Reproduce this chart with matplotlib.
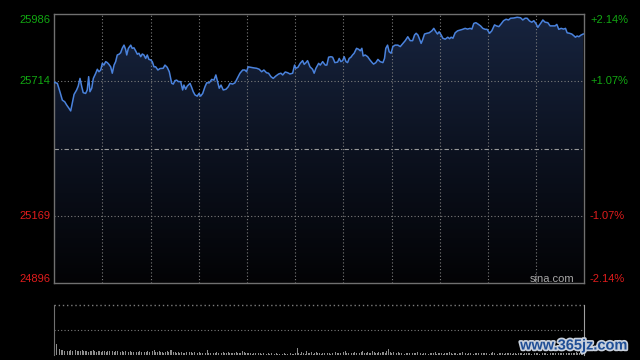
import numpy as np
import matplotlib
matplotlib.use("Agg")
import matplotlib.pyplot as plt
import matplotlib.patheffects as pe
from matplotlib.transforms import blended_transform_factory
from matplotlib.colors import LinearSegmentedColormap

# ---------------- data ----------------
prev_close = 25441
y_top, y_bot = 25986, 24896
left_labels = ["25986", "25714", "25169", "24896"]
left_values = [25986, 25714, 25169, 24896]
right_labels = ["+2.14%", "+1.07%", "-1.07%", "-2.14%"]

minutes = [0.0, 1.9, 3.5, 5.0, 6.5, 7.7, 9.1, 10.2, 11.2, 12.3, 13.9, 14.9, 16.0, 17.1, 18.0, 19.5,
           20.5, 21.4, 22.2, 23.3, 24.3, 25.8, 26.8, 27.8, 28.9, 29.9, 30.9, 32.0, 33.0, 34.0, 35.1,
           36.1, 37.2, 38.2, 39.2, 40.3, 41.3, 42.3, 43.4, 44.4, 45.1, 46.1, 47.6, 48.5, 49.6, 50.7,
           51.7, 52.7, 53.8, 54.8, 55.8, 56.9, 57.9, 58.9, 60.0, 61.0, 62.1, 63.1, 64.5, 65.8,
           67.8, 68.9, 70.3, 71.6, 73.1, 74.1, 75.1, 76.2, 77.2, 78.7, 79.9, 80.7, 81.8, 82.8, 84.5,
           85.5, 86.5, 87.6, 89.0, 90.1, 91.1, 92.4, 93.8, 94.9, 96.5, 98.0, 99.4, 100.6, 101.4,
           102.7, 103.8, 105.2, 106.9, 108.3, 109.4, 111.0, 112.5, 113.9, 115.6, 117.3, 118.7,
           119.7, 120.7, 122.2, 123.9, 126.0, 127.6, 129.1, 130.5, 132.1,
           133.4, 134.9, 136.3, 138.0, 139.7, 141.1, 142.2, 143.8, 145.3, 146.7, 148.4, 149.6,
           150.4, 151.7, 153.1, 154.6, 155.6, 156.7, 157.7, 159.2, 160.8, 161.8, 162.9, 164.6,
           165.6, 167.1, 168.7, 169.7, 170.8, 172.2, 173.3, 174.7, 176.4, 177.4, 178.4, 179.5,
           180.5, 181.6, 182.6, 183.6, 184.7, 185.7, 186.7, 188.2, 189.5, 190.5, 191.5, 192.3,
           193.6, 195.1, 196.5, 197.9,
           198.8, 200.2, 201.5, 202.9, 204.6, 205.6, 206.4, 207.5, 208.5, 209.7, 210.8, 212.2,
           213.9, 215.4, 216.8, 218.5, 220.1, 221.6, 223.1, 224.3, 225.3, 226.4, 227.2, 228.4,
           229.3, 230.5, 232.0, 233.4, 235.1, 236.3, 237.6, 238.6, 239.6, 240.9, 241.9, 243.4,
           245.0, 246.1, 247.1, 248.2, 249.6, 251.1, 252.7, 254.2, 255.8, 257.3, 258.9, 260.0,
           261.2, 262.5, 263.7,
           265.4, 266.8, 268.3, 269.5, 271.0, 272.4, 274.1, 275.3, 276.8, 278.2, 279.7, 281.3,
           282.8, 284.1, 286.1, 288.2, 290.3, 291.7, 293.1, 294.4, 295.9, 297.3, 298.6, 300.0,
           301.1, 302.1, 303.1, 304.2, 305.6, 307.3, 308.7, 310.4, 311.8, 312.9, 314.1, 315.6,
           317.1, 318.3, 319.3, 320.8, 322.2, 323.5, 324.5, 325.5, 326.6, 328.0, 329.3]

prices = [25710, 25706, 25672, 25638, 25631, 25618, 25605, 25594, 25625, 25661, 25679, 25695, 25726,
          25692, 25668, 25665, 25679, 25733, 25672, 25686, 25726, 25747, 25763, 25753, 25760, 25787,
          25780, 25794, 25790, 25783, 25773, 25747, 25780, 25794, 25821, 25824, 25830, 25848, 25861,
          25844, 25821, 25848, 25861, 25848, 25850, 25837, 25824, 25828, 25814, 25825, 25821, 25807,
          25821, 25803, 25801, 25794, 25773, 25773, 25760, 25766,
          25767, 25780, 25771, 25753, 25706, 25703, 25717, 25719, 25713, 25713, 25679, 25699, 25682,
          25695, 25706, 25690, 25672, 25659, 25654, 25665, 25654, 25665, 25692, 25708, 25708, 25722,
          25719, 25740, 25719, 25686, 25699, 25679, 25682, 25692, 25706, 25703, 25708, 25726, 25747,
          25760, 25760, 25753, 25773, 25771, 25769, 25767, 25763, 25753, 25760, 25749,
          25747, 25733, 25726, 25736, 25744, 25747, 25740, 25752, 25749, 25744, 25747, 25780, 25767,
          25771, 25787, 25798, 25783, 25790, 25798, 25773, 25763, 25747, 25767, 25787, 25780, 25794,
          25780, 25780, 25812, 25814, 25812, 25790, 25792, 25807, 25794, 25798, 25814, 25794, 25790,
          25807, 25812, 25821, 25828, 25848, 25844, 25838, 25848, 25817, 25821, 25814, 25801, 25790,
          25784, 25790, 25803, 25794, 25790, 25807, 25848, 25861, 25834, 25828, 25855, 25861, 25861,
          25855, 25866, 25879, 25895, 25879, 25879, 25902, 25909, 25902, 25889, 25868, 25882, 25906,
          25909, 25911, 25919, 25929, 25915, 25906, 25915, 25902, 25889, 25885, 25893, 25887, 25893,
          25889, 25911, 25919, 25922, 25925, 25929, 25926, 25929, 25926, 25949, 25952, 25947,
          25939, 25929, 25925, 25925, 25909, 25919, 25943, 25939, 25936, 25947, 25960, 25966, 25963,
          25970, 25971, 25974, 25972, 25963, 25970, 25970, 25959, 25954, 25960, 25947, 25933, 25943,
          25952, 25963, 25954, 25952, 25939, 25939, 25939, 25945, 25925, 25929, 25926, 25929, 25911,
          25909, 25906, 25899, 25893, 25898, 25895, 25902, 25906]

volumes = [21, 11, 7, 6, 5, 5, 4, 5, 4, 4, 5, 4, 4, 5, 4, 4, 4, 5, 4, 4, 4, 3, 4, 4, 5, 4, 3, 4, 4, 3,
           4, 4, 3, 4, 4, 3, 4, 3, 4, 4, 3, 3, 4, 3, 4, 4, 3, 4, 3, 3, 4, 3, 3, 4, 3, 5, 3, 3, 4, 3,
           3, 4, 5, 3, 3, 4, 3, 3, 2, 3, 4, 3, 5, 5, 3, 3, 2, 3, 2, 3, 2, 2, 3, 2, 3, 3, 2, 3, 2, 2,
           3, 2, 2, 3, 2, 5, 2, 2, 3, 2, 2, 3, 2, 2, 2, 3, 2, 2, 3, 2, 2, 2, 2, 3, 2, 2, 2, 4, 3, 2,
           2, 2, 2, 1, 2, 2, 1, 2, 2, 1, 2, 2, 1, 2, 1, 2, 1, 1, 2, 1, 1, 2, 1, 2, 1, 1, 1, 2, 1, 1,
           2, 7, 2, 1, 3, 2, 1, 4, 2, 2, 3, 1, 2, 3, 2, 2, 1, 2, 2, 3, 2, 2, 1, 2, 2, 3, 2, 2, 2, 2,
           3, 4, 2, 2, 3, 2, 2, 3, 2, 3, 2, 3, 4, 2, 2, 3, 2, 2, 4, 3, 2, 2, 3, 2, 3, 3, 2, 4, 6, 3,
           2, 3, 2, 2, 3, 2, 2, 2, 1, 2, 2, 2, 1, 2, 2, 2, 3, 2, 2, 1, 2, 2, 2, 1, 2, 2, 2, 3, 1, 2,
           2, 2, 1, 2, 2, 2, 3, 2, 1, 2, 2, 1, 2, 2, 3, 2, 2, 1, 2, 2, 2, 1, 2, 2, 2, 1, 2, 2, 2, 2,
           2, 1, 2, 3, 2, 2, 1, 2, 2, 2, 1, 2, 2, 2, 2, 1, 2, 2, 1, 2, 2, 2, 1, 2, 2, 2, 2, 1, 2, 2,
           2, 2, 1, 2, 2, 2, 2, 1, 2, 2, 2, 2, 2, 1, 2, 2, 2, 2, 2, 2, 2, 2, 2, 2, 2, 3, 2, 2, 2, 3]

# ---------------- figure ----------------
plt.rcParams['font.family'] = ['Liberation Sans', 'DejaVu Sans']
fig = plt.figure(figsize=(6.4, 3.6), dpi=100, facecolor='black')

ax = fig.add_axes([54.3 / 640, 1 - 283 / 360, 530 / 640, (283 - 14.3) / 360])
ax.set_facecolor('black')
ax.set_xlim(0, 330)
ax.set_ylim(y_bot, y_top)

x = np.array(minutes)
y = np.array(prices)

# gradient fill under the line
poly = ax.fill_between(x, y, y_bot, color='none', linewidth=0)
grad = np.linspace(1, 0, 256).reshape(-1, 1)
cmap = LinearSegmentedColormap.from_list('g', ['#030305', '#0c1220', '#17243f'])
im = ax.imshow(grad, cmap=cmap, aspect='auto', extent=[0, 330, y_bot, y_top],
               origin='upper', zorder=1, interpolation='bilinear')
path = poly.get_paths()[0]
im.set_clip_path(path, transform=ax.transData)

ax.plot(x, y, color='#4a82dc', linewidth=1.1, zorder=3)

# grid
gc = '#7c7c7c'
for t in range(30, 330, 30):
    ax.axvline(t, color=gc, linestyle=(0, (1, 2)), linewidth=0.8, zorder=2)
for v in (25714, 25169):
    ax.axhline(v, color=gc, linestyle=(0, (1, 2)), linewidth=0.8, zorder=2)
ax.axhline(prev_close, color='#9a9a9a', linestyle=(0, (4, 2, 1, 2)), linewidth=0.8, zorder=2)

for s in ax.spines.values():
    s.set_color('#707070')
    s.set_linewidth(1.0)
ax.set_xticks([])
ax.set_yticks([])

green = '#12a812'
red = '#e01c1c'
colors = [green, green, red, red]
tr_l = blended_transform_factory(fig.transFigure, ax.transData)
offsets = [-5.5, 0, 0, 4.5]  # pixel shift for first/last labels
for lab, val, col, rl, off in zip(left_labels, left_values, colors, right_labels, offsets):
    ax.annotate(lab, xy=(50 / 640, val), xycoords=tr_l, xytext=(0, off), textcoords='offset pixels',
                ha='right', va='center', color=col, fontsize=8)
    ax.annotate(rl, xy=(590 / 640, val), xycoords=tr_l, xytext=(0, off), textcoords='offset pixels',
                ha='left', va='center', color=col, fontsize=8)

ax.text(552 / 640, 1 - 279.5 / 360, 'sina.com', transform=fig.transFigure, ha='center', va='center',
        color='#a8a8a8', fontsize=8, zorder=5)

# ---------------- volume panel ----------------
vax = fig.add_axes([54.3 / 640, 1 - 355 / 360, 530 / 640, (355 - 304.7) / 360])
vax.set_facecolor('black')
vax.set_xlim(-0.3, 330)
vax.set_ylim(0, 50)
vax.bar(np.arange(len(volumes)), volumes, width=0.55, color='#8c8c8c', linewidth=0)
vax.axhline(25, color=gc, linestyle=(0, (1, 2)), linewidth=0.8)
vax.axhline(50, color=gc, linestyle=(0, (1, 2)), linewidth=1.0, clip_on=False)
vax.spines['top'].set_visible(False)
vax.spines['bottom'].set_visible(False)
vax.spines['left'].set_color('#707070')
vax.spines['right'].set_color('#a0a0a0')
vax.set_xticks([])
vax.set_yticks([])

# watermark
fig.text(574 / 640, 1 - 345.5 / 360, 'www.365jz.com', ha='center', va='center',
         color='#1f4e96', fontsize=10.5, fontweight='bold', family='Liberation Sans',
         path_effects=[pe.withStroke(linewidth=2.5, foreground='#c8d0dc')], zorder=10)

fig.savefig('out.png', dpi=100, facecolor='black')
